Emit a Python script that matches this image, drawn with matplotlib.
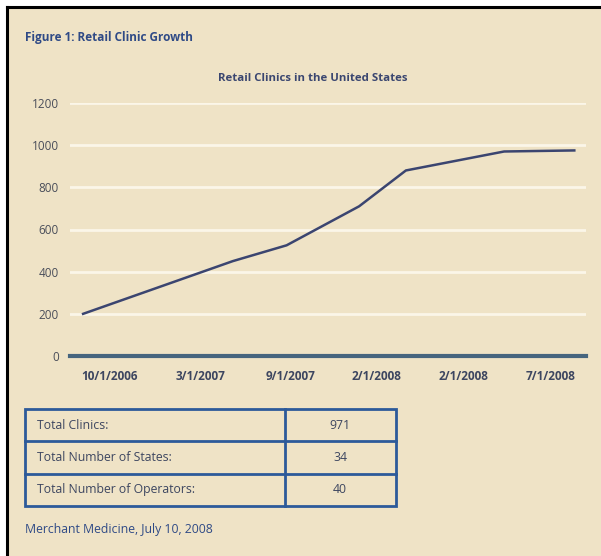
import matplotlib.pyplot as plt
from matplotlib.patches import Rectangle

# clinic counts, x in months since Oct 2006
months = [0, 6.4, 8.7, 11.8, 13.8, 18.0, 21.0]
clinics = [200, 450, 525, 710, 880, 970, 975]

tick_pos = [1.15, 5.0, 8.85, 12.55, 16.25, 20.0]
tick_labels = ['10/1/2006', '3/1/2007', '9/1/2007', '2/1/2008', '2/1/2008', '7/1/2008']

row_labels = ['Total Clinics:', 'Total Number of States:', 'Total Number of Operators:']
row_values = ['971', '34', '40']

bg = '#efe3c6'
navy = '#2f4a86'
txt = '#3d4660'
plt.rcParams['font.family'] = ['Open Sans', 'DejaVu Sans']

W, H = 601, 556
fig = plt.figure(figsize=(W / 100, H / 100), dpi=100, facecolor='white')

# beige panel with black frame on top/left
fig.patches.append(Rectangle((7 / W, 0), 1, 1 - 7 / H, transform=fig.transFigure,
                             facecolor=bg, edgecolor='none', zorder=-10))
fig.lines.append(plt.Line2D([7 / W, 1], [1 - 7 / H, 1 - 7 / H], transform=fig.transFigure,
                            color='black', lw=2.2, zorder=-5))
fig.lines.append(plt.Line2D([7 / W, 7 / W], [0, 1 - 7 / H], transform=fig.transFigure,
                            color='black', lw=2.2, zorder=-5))

fig.text(25 / W, 1 - 37 / H, 'Figure 1: Retail Clinic Growth', fontsize=8.5,
         fontweight='bold', color=navy, va='center')

ax = fig.add_axes([70 / W, 1 - 356 / H, 516 / W, 253 / H])
ax.set_facecolor('none')
ax.set_xlim(-0.56, 21.5)
ax.set_ylim(0, 1200)
ax.set_yticks(range(0, 1201, 200))
ax.yaxis.grid(True, color='#fbf6e8', lw=2)
ax.set_axisbelow(True)
for s in ['top', 'right', 'left']:
    ax.spines[s].set_visible(False)
ax.spines['bottom'].set_color('#46657e')
ax.spines['bottom'].set_linewidth(3)
ax.tick_params(length=0, labelsize=8.5, labelcolor='#4a4e5a', pad=8)
ax.set_xticks(tick_pos)
ax.set_xticklabels(tick_labels, fontsize=8.5, color=txt, fontweight='bold')
ax.tick_params(axis='x', pad=10)

ax.plot(months, clinics, color='#3b4570', lw=1.8, solid_joinstyle='round')
ax.set_title('Retail Clinics in the United States', fontsize=8.2, fontweight='bold',
             color='#3a4670', pad=16, x=0.47)

# summary table
tab = fig.add_axes([25 / W, 1 - 506 / H, 371 / W, 97 / H])
tab.set_xlim(0, 371)
tab.set_ylim(0, 3)
tab.axis('off')
blue = '#2c5a9a'
tab.add_patch(Rectangle((0, 0), 371, 3, fill=False, edgecolor=blue, lw=2, clip_on=False))
tab.plot([260, 260], [0, 3], color=blue, lw=2, clip_on=False)
for k in (1, 2):
    tab.plot([0, 371], [k, k], color=blue, lw=2, clip_on=False)
for i, (lab, val) in enumerate(zip(row_labels, row_values)):
    yy = 2.5 - i
    tab.text(12, yy, lab, fontsize=8.8, color=txt, va='center')
    tab.text(315, yy, val, fontsize=8.8, color=txt, va='center', ha='center')

fig.text(25 / W, 1 - 530 / H, 'Merchant Medicine, July 10, 2008', fontsize=8.8,
         color=navy, va='center')

fig.savefig('out.png', dpi=100, facecolor='white')
